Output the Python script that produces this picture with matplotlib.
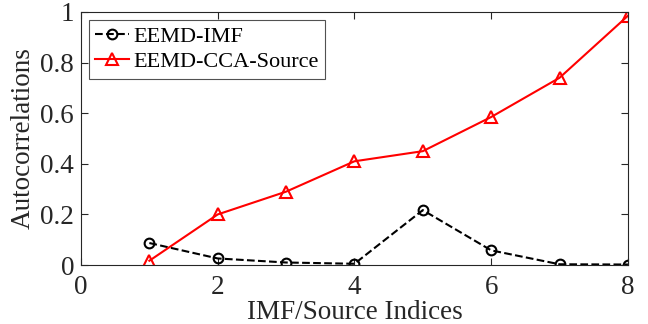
import matplotlib
matplotlib.use("Agg")
import matplotlib.pyplot as plt

plt.rcParams['font.family'] = ['Liberation Serif', 'DejaVu Serif']
plt.rcParams['mathtext.fontset'] = 'stix'

# data
indices = [1, 2, 3, 4, 5, 6, 7, 8]
imf_acorr = [0.087, 0.026, 0.010, 0.005, 0.217, 0.058, 0.003, 0.002]
source_acorr = [0.017, 0.200, 0.290, 0.410, 0.450, 0.585, 0.740, 0.985]

fig = plt.figure(figsize=(6.48, 3.24), dpi=100)
ax = fig.add_axes([0.125, 0.182, 0.844, 0.781])

ax.plot(indices, imf_acorr, color='black', linestyle='--', linewidth=1.5,
        marker='o', markersize=7, markerfacecolor='none', markeredgewidth=1.5,
        label='EEMD-IMF')
ax.plot(indices, source_acorr, color='red', linestyle='-', linewidth=1.5,
        marker='^', markersize=8, markerfacecolor='none', markeredgewidth=1.5,
        label='EEMD-CCA-Source')

ax.set_xlim(0, 8)
ax.set_ylim(0, 1)
ax.set_xticks([0, 2, 4, 6, 8])
ax.set_yticks([0, 0.2, 0.4, 0.6, 0.8, 1])
ax.set_yticklabels(['0', '0.2', '0.4', '0.6', '0.8', '1'])
ax.tick_params(direction='in', top=True, right=True, labelsize=19.5,
               colors='#262626', length=5)
ax.tick_params(axis='x', pad=7)
ax.tick_params(axis='y', pad=5)
for s in ax.spines.values():
    s.set_color('#262626')
    s.set_linewidth(0.8)

ax.set_xlabel('IMF/Source Indices', fontsize=19.5, color='#262626', labelpad=0)
ax.set_ylabel('Autocorrelations', fontsize=19.5, color='#262626', labelpad=3)

leg = ax.legend(loc='upper left', fontsize=16, frameon=True, fancybox=False,
                edgecolor='#262626', borderpad=0.3, labelspacing=0.2,
                handlelength=1.5, handletextpad=0.2, borderaxespad=0.35)
leg.get_frame().set_linewidth(0.8)

fig.savefig('out.png', dpi=100)
